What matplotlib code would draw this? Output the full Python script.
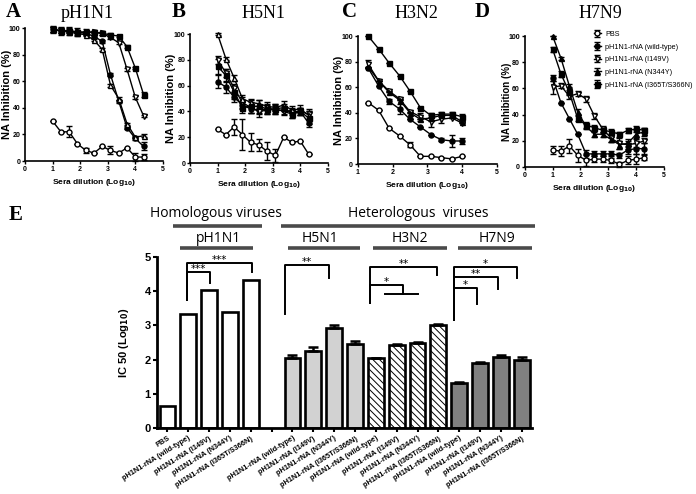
import matplotlib.pyplot as plt
from matplotlib.transforms import blended_transform_factory
import numpy as np

plt.rcParams.update({
    'font.family': ['Liberation Sans', 'DejaVu Sans'],
    'font.weight': 'bold',
    'axes.linewidth': 1.2,
    'xtick.major.width': 1.0,
    'ytick.major.width': 1.0,
    'xtick.major.size': 2.5,
    'ytick.major.size': 2.5,
    'hatch.linewidth': 0.7,
    'mathtext.default': 'bf',
})

### NA inhibition curves (panels A-D) and IC50 bars (panel E)

names = ['PBS', 'pH1N1-rNA (wild-type)', 'pH1N1-rNA (I149V)',
         'pH1N1-rNA (N344Y)', 'pH1N1-rNA (I365T/S366N)']
markers = ['o', 'o', 'v', '^', 's']

dil_12 = [1.0, 1.3, 1.6, 1.9, 2.2, 2.5, 2.8, 3.1, 3.4, 3.7, 4.0, 4.3]
dil_10 = [1.3, 1.6, 1.9, 2.2, 2.5, 2.8, 3.1, 3.4, 3.7, 4.0]

# A - pH1N1
a_pbs = [30, 22, 22, 13, 8, 6, 11, 8, 6, 10, 3, 3]
a_pbs_err = [0, 0, 4, 0, 2, 0, 0, 3, 0, 0, 3, 2]
a_wt = [99, 98, 98, 97, 96, 94, 90, 65, 45, 25, 17, 11]
a_wt_err = [2, 2, 2, 1, 1, 1, 1, 1, 1, 1, 1, 3]
a_i149v = [99, 98, 98, 97, 97, 97, 96, 93, 89, 69, 48, 34]
a_i149v_err = [2, 2, 1, 1, 1, 1, 1, 1, 1, 1, 1, 1]
a_n344y = [99, 98, 97, 96, 95, 91, 84, 57, 47, 28, 18, 19]
a_n344y_err = [2, 2, 1, 1, 1, 1, 1, 1, 1, 1, 1, 1]
a_dbl = [99, 98, 98, 97, 97, 97, 96, 95, 94, 86, 70, 50]
a_dbl_err = [3, 3, 3, 3, 2, 1, 1, 1, 1, 1, 1, 2]

# B - H5N1
b_pbs = [26, 22, 28, 22, 16, 14, 9, 6, 20, 16, 17, 7]
b_pbs_err = [0, 0, 6, 12, 7, 5, 7, 5, 0, 0, 0, 0]
b_wt = [63, 59, 51, 45, 42, 41, 42, 41, 41, 40, 40, 31]
b_wt_err = [5, 5, 4, 3, 3, 3, 3, 3, 3, 3, 3, 3]
b_i149v = [80, 70, 58, 47, 43, 40, 41, 42, 40, 38, 40, 38]
b_i149v_err = [3, 3, 3, 4, 4, 4, 3, 3, 3, 3, 3, 4]
b_n344y = [100, 81, 66, 50, 47, 46, 44, 43, 45, 41, 42, 37]
b_n344y_err = [1, 1, 2, 3, 3, 3, 3, 3, 3, 3, 3, 3]
b_dbl = [75, 68, 55, 43, 44, 44, 42, 42, 43, 38, 40, 35]
b_dbl_err = [6, 5, 5, 4, 5, 5, 4, 4, 3, 3, 3, 5]

# C - H3N2
c_pbs = [48, 42, 28, 22, 15, 6, 6, 5, 4, 6]
c_pbs_err = [0, 0, 0, 0, 2, 0, 0, 0, 0, 0]
c_wt = [75, 61, 49, 43, 35, 29, 23, 19, 18, 18]
c_wt_err = [0, 0, 2, 4, 0, 0, 0, 1, 5, 2]
c_i149v = [78, 65, 57, 51, 41, 37, 33, 35, 36, 32]
c_i149v_err = [3, 0, 0, 0, 0, 3, 4, 3, 0, 0]
c_n344y = [76, 65, 56, 50, 40, 35, 36, 38, 38, 33]
c_n344y_err = [0, 0, 0, 0, 0, 0, 2, 0, 0, 0]
c_dbl = [100, 90, 79, 69, 57, 44, 38, 39, 39, 37]
c_dbl_err = [0, 0, 0, 0, 0, 0, 2, 2, 2, 2]

# D - H7N9
d_pbs = [13, 12, 16, 9, 5, 6, 6, 5, 2, 5, 6, 7]
d_pbs_err = [3, 4, 5, 5, 4, 2, 2, 2, 2, 3, 4, 2]
d_wt = [68, 49, 37, 25, 10, 10, 10, 10, 9, 13, 14, 14]
d_wt_err = [2, 0, 0, 0, 3, 2, 2, 2, 2, 3, 4, 4]
d_i149v = [61, 62, 54, 56, 52, 39, 29, 22, 18, 17, 18, 20]
d_i149v_err = [5, 2, 2, 2, 2, 2, 2, 3, 4, 3, 3, 2]
d_n344y = [100, 83, 62, 42, 31, 25, 25, 21, 17, 18, 25, 27]
d_n344y_err = [0, 1, 1, 2, 2, 2, 2, 2, 3, 3, 3, 3]
d_dbl = [90, 71, 57, 37, 32, 30, 28, 27, 25, 28, 29, 28]
d_dbl_err = [2, 2, 2, 2, 2, 2, 2, 2, 2, 2, 2, 2]

# E - IC50 (Log10)
variants = ['pH1N1-rNA (wild-type)', 'pH1N1-rNA (I149V)',
            'pH1N1-rNA (N344Y)', 'pH1N1-rNA (I365T/S366N)']
ic50_pbs = [0.65]
ic50_ph1n1 = [3.33, 4.03, 3.38, 4.33]
ic50_h5n1 = [2.05, 2.25, 2.92, 2.45]
ic50_h5n1_err = [0.1, 0.12, 0.1, 0.1]
ic50_h3n2 = [2.04, 2.42, 2.48, 3.01]
ic50_h3n2_err = [0.02, 0.03, 0.03, 0.03]
ic50_h7n9 = [1.31, 1.9, 2.08, 1.99]
ic50_h7n9_err = [0.03, 0.03, 0.06, 0.1]

fig = plt.figure(figsize=(6.96, 4.94), dpi=100)

panels = [
    ('A', 'pH1N1', [0.036, 0.674, 0.198, 0.269], dil_12, (0, 5),
     [(a_pbs, a_pbs_err), (a_wt, a_wt_err), (a_i149v, a_i149v_err), (a_n344y, a_n344y_err), (a_dbl, a_dbl_err)], True, 8, -0.128),
    ('B', 'H5N1', [0.273, 0.670, 0.198, 0.261], dil_12, (0, 5),
     [(b_pbs, b_pbs_err), (b_wt, b_wt_err), (b_i149v, b_i149v_err), (b_n344y, b_n344y_err), (b_dbl, b_dbl_err)], True, 8, -0.135),
    ('C', 'H3N2', [0.514, 0.668, 0.200, 0.259], dil_10, (1, 5),
     [(c_pbs, c_pbs_err), (c_wt, c_wt_err), (c_i149v, c_i149v_err), (c_n344y, c_n344y_err), (c_dbl, c_dbl_err)], False, 8, -0.133),
    ('D', 'H7N9', [0.754, 0.662, 0.200, 0.265], dil_12, (0, 5),
     [(d_pbs, d_pbs_err), (d_wt, d_wt_err), (d_i149v, d_i149v_err), (d_n344y, d_n344y_err), (d_dbl, d_dbl_err)], False, 7, -0.125),
]
letter_x = [0.008, 0.247, 0.492, 0.682]
title_x = [0.125, 0.378, 0.598, 0.862]

handles = []
for k, (letter, title, rect, xs, xl, series, open_tri, ylab_size, ylab_x) in enumerate(panels):
    ax = fig.add_axes(rect)
    handles = []
    for i, (ys, err) in enumerate(series):
        fill = i in (1, 4) or (i == 3 and not open_tri)
        h = ax.errorbar(xs, ys, yerr=err, color='k', lw=1.0, elinewidth=1.0,
                        capsize=2, capthick=1.0, marker=markers[i], ms=3.6,
                        mfc='k' if fill else 'white', mec='k', mew=1.0, clip_on=False)
        handles.append(h)
    ax.set_xlim(*xl)
    ax.set_ylim(0, 100)
    ax.set_yticks([0, 20, 40, 60, 80, 100])
    ax.set_xticks(range(xl[0], 6))
    ax.tick_params(labelsize=5, pad=1)
    for lab in ax.get_xticklabels() + ax.get_yticklabels():
        lab.set_fontweight('bold')
    ax.spines['top'].set_visible(False)
    ax.spines['right'].set_visible(False)
    ax.set_ylabel('NA Inhibition (%)', fontsize=ylab_size, fontweight='bold', va='center')
    ax.yaxis.set_label_coords(ylab_x, 0.5)
    ax.set_xlabel('Sera dilution (Log$_{10}$)', fontsize=6, fontweight='bold', labelpad=3)
    fig.text(letter_x[k], 0.975, letter, family='Liberation Serif', fontweight='bold',
             fontsize=15, va='center')
    fig.text(title_x[k], 0.972, title, family='Liberation Serif', fontweight='normal',
             fontsize=13, ha='center', va='center')

leg = fig.legend(handles, names, loc='upper left', bbox_to_anchor=(0.848, 0.945),
                 frameon=False, fontsize=5.2, handlelength=1.0, handletextpad=0.6,
                 labelspacing=0.78, borderpad=0)
for t in leg.get_texts():
    t.set_fontweight('normal')

# panel E
axE = fig.add_axes([0.2256, 0.1336, 0.539, 0.346])
pos = np.arange(18)
edge = dict(edgecolor='k', linewidth=1.9, width=0.76)
axE.bar(pos[0:1], ic50_pbs, color='white', **edge)
axE.bar(pos[1:5], ic50_ph1n1, color='white', **edge)
axE.bar(pos[6:10], ic50_h5n1, color='#d2d2d2', **edge)
axE.bar(pos[10:14], ic50_h3n2, color='white', hatch='\\\\\\\\\\', **edge)
axE.bar(pos[14:18], ic50_h7n9, color='#808080', **edge)
for p, v, e in [(pos[6:10], ic50_h5n1, ic50_h5n1_err), (pos[10:14], ic50_h3n2, ic50_h3n2_err),
                (pos[14:18], ic50_h7n9, ic50_h7n9_err)]:
    axE.errorbar(p, v, yerr=[np.zeros(4), e], fmt='none', ecolor='k', elinewidth=1.8,
                 capsize=3.5, capthick=1.8)
axE.set_xlim(-0.5, 17.5)
axE.set_ylim(0, 5)
axE.set_yticks(range(6))
axE.set_xticks(pos)
axE.set_xticklabels(['PBS'] + variants + [''] + variants * 3, rotation=32,
                    ha='right', rotation_mode='anchor', fontsize=5.3, fontweight='bold')
for lab in axE.get_yticklabels():
    lab.set_fontweight('bold')
axE.tick_params(axis='y', labelsize=8, pad=1.5, width=1.5, length=3)
axE.tick_params(axis='x', pad=2, width=1.5, length=3)
axE.spines['top'].set_visible(False)
axE.spines['right'].set_visible(False)
axE.spines['left'].set_linewidth(2)
axE.spines['bottom'].set_linewidth(2)
axE.set_ylabel('IC 50 (Log$_{10}$)', fontsize=8, fontweight='bold', labelpad=10)

# significance brackets: x1, x2, top, left bottom, right bottom, stars
brackets = [
    (0.94, 4.06, 4.82, 3.75, 4.56, '***'),
    (0.94, 2.04, 4.56, 3.75, 4.24, '***'),
    (5.65, 7.76, 4.77, 3.33, 4.40, '**'),
    (9.73, 12.94, 4.70, 3.65, 4.47, '**'),
    (9.73, 11.31, 4.18, 3.65, 3.92, '*'),
    (13.76, 16.78, 4.70, 3.16, 4.38, '*'),
    (13.76, 15.87, 4.41, 3.16, 4.06, '**'),
    (13.76, 14.86, 4.09, 3.16, 3.63, '*'),
]
for x1, x2, top, yl, yr, s in brackets:
    axE.plot([x1, x1, x2, x2], [yl, top, top, yr], color='k', lw=1.4, clip_on=False)
    axE.text((x1 + x2) / 2, top + 0.01, s, ha='center', va='baseline', fontsize=7.5,
             family='DejaVu Sans', fontweight='normal')
axE.plot([10.45, 12.03], [3.92, 3.92], color='k', lw=1.4)

# group headers above panel E
tr = blended_transform_factory(axE.transData, axE.transAxes)
headers = [
    ('Homologous viruses', 2.33, 1.257, 0.27, 4.54, 1.18),
    ('Heterologous  viruses', 12.03, 1.257, 5.45, 17.65, 1.18),
    ('pH1N1', 2.43, 1.11, 0.6, 4.1, 1.053),
    ('H5N1', 7.3, 1.11, 5.79, 9.25, 1.053),
    ('H3N2', 11.65, 1.11, 9.87, 13.42, 1.053),
    ('H7N9', 15.8, 1.11, 13.95, 17.5, 1.053),
]
for txt, tx, ty, x1, x2, ly in headers:
    axE.text(tx, ty, txt, transform=tr, ha='center', va='center', fontsize=10,
             family='Open Sans', fontweight='normal')
    axE.plot([x1, x2], [ly, ly], transform=tr, color='#4a4a4a', lw=2.6, clip_on=False,
             solid_capstyle='butt')

fig.text(0.012, 0.565, 'E', family='Liberation Serif', fontweight='bold', fontsize=15,
         va='center')

fig.savefig('out.png', dpi=100)
